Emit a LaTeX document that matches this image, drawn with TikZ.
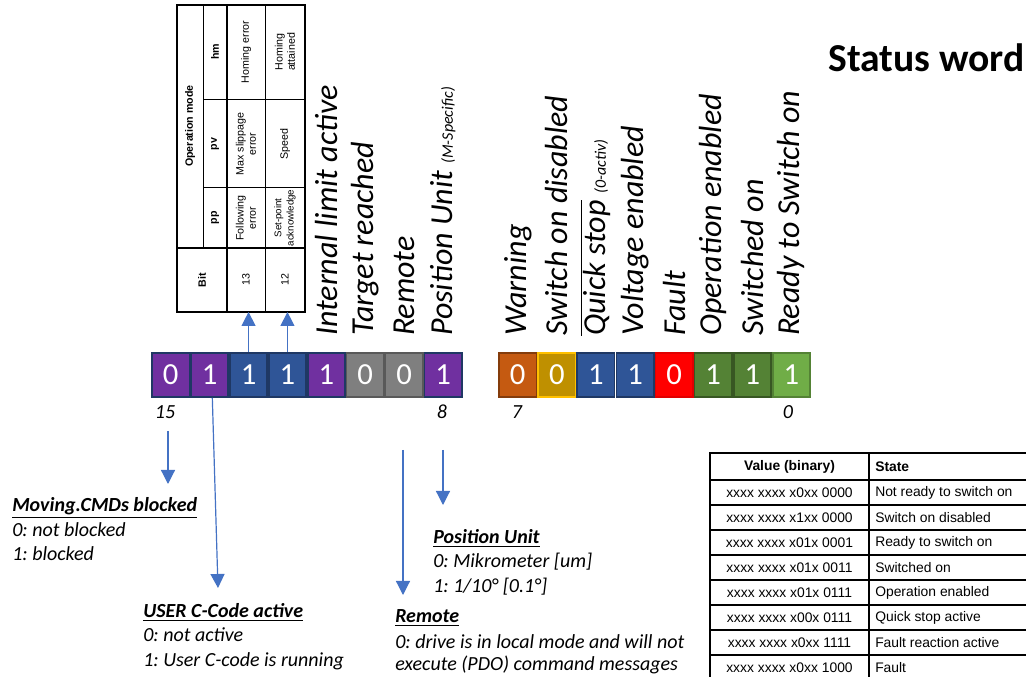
\documentclass[tikz,border=0pt]{standalone}
\usepackage{fontspec}
\setmainfont{Carlito}
\newfontfamily\tabfont{Liberation Sans}
\usetikzlibrary{arrows.meta,positioning}
\frenchspacing
\definecolor{swlila}{HTML}{7030A0}
\definecolor{swnavy}{HTML}{1F3864}
\definecolor{swblau}{HTML}{2F5597}
\definecolor{swgrau}{HTML}{7F7F7F}
\definecolor{swgraurand}{HTML}{595959}
\definecolor{sworange}{HTML}{C55A11}
\definecolor{sworangerand}{HTML}{843C0C}
\definecolor{swgold}{HTML}{BF9000}
\definecolor{swgelb}{HTML}{FFC000}
\definecolor{swrot}{HTML}{FF0000}
\definecolor{swrotrand}{HTML}{E00000}
\definecolor{swgruen}{HTML}{548235}
\definecolor{swgruenrand}{HTML}{385723}
\definecolor{swhellgruen}{HTML}{70AD47}
\definecolor{swpfeilblau}{HTML}{4472C4}
\tikzset{
  swbit/.style={minimum width=28pt, minimum height=33pt, inner sep=0pt, line width=1.3pt,
                text=white, font=\fontsize{23}{23}\selectfont},
  swlabel/.style={rotate=90, anchor=west, inner sep=0pt, font=\fontsize{24}{24}\selectfont\itshape},
  swnummer/.style={anchor=base, inner sep=0pt, font=\fontsize{15}{15}\selectfont\itshape},
  swpfeil/.style={-{Triangle[length=10.5pt,width=10.5pt]}, draw=swpfeilblau, line width=0.9pt},
  swtext/.style={anchor=base west, inner sep=0pt, font=\fontsize{15}{15}\selectfont\itshape},
  swtitel/.style={anchor=base west, inner sep=0pt, font=\fontsize{15}{15}\selectfont\itshape\bfseries},
  swzelle/.style={rotate=90, align=center, inner sep=0pt, font=\tabfont\fontsize{8}{9.2}\selectfont},
  swkopf/.style={swzelle, font=\tabfont\bfseries\fontsize{8}{9.2}\selectfont},
  swzeile/.style={inner sep=0pt, font=\tabfont\fontsize{10.4}{12}\selectfont},
}
\begin{document}
\begin{tikzpicture}[x=0.75pt, y=-0.75pt]
  \useasboundingbox (0,0) rectangle (1026,677);
  % titel
  \node[anchor=base west, inner sep=0pt, font=\fontsize{29.7}{29.7}\selectfont\bfseries] (titel) at (828,72) {Status word};
  % tabelle betriebsart (gedreht)
  \draw[line width=2.2pt] (177,5) rectangle (305,312);
  \draw[line width=1.8pt] (227,5) -- (227,312) (177,248) -- (305,248);
  \draw[line width=0.75pt] (203,5) -- (203,248) (265,5) -- (265,312) (203,100) -- (305,100) (203,188) -- (305,188);
  \node[swkopf] (tbit) at (202,280) {Bit};
  \node[swkopf] (tmode) at (190,126) {Operation mode};
  \node[swkopf] (tpp) at (215,218) {pp};
  \node[swkopf] (tpv) at (215,144) {pv};
  \node[swkopf] (thm) at (215,52) {hm};
  \node[swzelle] (t13) at (246,280) {13};
  \node[swzelle] (t12) at (285,280) {12};
  \node[swzelle] (t13pp) at (246,218) {Following\\error};
  \node[swzelle] (t13pv) at (246,144) {Max slippage\\error};
  \node[swzelle] (t13hm) at (246,52) {Homing error};
  \node[swzelle, font=\tabfont\fontsize{7.3}{9.2}\selectfont] (t12pp) at (285,218) {Set-point\\acknowledge};
  \node[swzelle] (t12pv) at (285,144) {Speed};
  \node[swzelle] (t12hm) at (285,52) {Homing\\attained};
  \coordinate (tunten) at (0,312);
  % bits 15..8
  \foreach \bit/\wert/\fuell/\rand [count=\i from 0] in {15/0/swlila/swnavy, 14/1/swlila/swnavy,
      13/1/swblau/swnavy, 12/1/swblau/swnavy, 11/1/swlila/swnavy, 10/0/swgrau/swgraurand,
      9/0/swgrau/swgraurand, 8/1/swlila/swnavy}
    \node[swbit, fill=\fuell, draw=\rand] (b\bit) at (170.75+38.9*\i,375) {\wert};
  % bits 7..0
  \foreach \bit/\wert/\fuell/\rand [count=\i from 0] in {7/0/sworange/sworangerand, 6/0/swgold/swgelb,
      5/1/swblau/swnavy, 4/1/swblau/swnavy, 3/0/swrot/swrotrand, 2/1/swgruen/swgruenrand,
      1/1/swgruen/swgruenrand, 0/1/swhellgruen/swgruen}
    \node[swbit, fill=\fuell, draw=\rand] (b\bit) at (517.75+39.1*\i,375) {\wert};
  % beschriftung der bits
  \foreach \bit/\name in {11/Internal limit active, 10/Target reached, 9/Remote,
      8/{Position Unit {\fontsize{12}{12}\selectfont(M-Specific)}}, 7/Warning, 6/Switch on disabled,
      5/{$\overline{\mbox{Quick stop}}$ {\fontsize{12}{12}\selectfont(0-activ)}}, 4/Voltage enabled,
      3/Fault, 2/Operation enabled, 1/Switched on, 0/Ready to Switch on}
    \node[swlabel] (l\bit) at ([yshift=12pt]b\bit.north) {\name};
  \node[swnummer] (n15) at (165,419) {15};
  \node[swnummer] (n8) at (442,419) {8};
  \node[swnummer] (n7) at (517,419) {7};
  \node[swnummer] (n0) at (788,419) {0};
  % pfeile
  \draw[swpfeil] (b13.north) -- (b13.north |- tunten);
  \draw[swpfeil] (b12.north) -- (b12.north |- tunten);
  \coordinate (p15a) at (168,431);
  \coordinate (p15b) at (168,484);
  \draw[swpfeil] (p15a) -- (p15b);
  \coordinate (p14) at (218,588);
  \draw[swpfeil] ([xshift=2pt]b14.south) -- (p14);
  \coordinate (p9a) at (403,450);
  \coordinate (p9b) at (403,595);
  \draw[swpfeil] (p9a) -- (p9b);
  \coordinate (p8a) at (443,450);
  \coordinate (p8b) at (443,505);
  \draw[swpfeil] (p8a) -- (p8b);
  % erklaerungen
  \node[swtitel] (m15) at (12,512) {\underline{Moving.CMDs blocked}};
  \node[swtext] (m15a) at (12,537) {0: not blocked};
  \node[swtext] (m15b) at (12,561) {1: blocked};
  \node[swtitel] (m14) at (143,618) {\underline{USER C-Code active}};
  \node[swtext] (m14a) at (143,642) {0: not active};
  \node[swtext] (m14b) at (143,667) {1: User C-code is running};
  \node[swtitel] (m8) at (433,544) {\underline{Position Unit}};
  \node[swtext] (m8a) at (433,568) {0: Mikrometer [um]};
  \node[swtext] (m8b) at (433,593) {1: 1/10° [0.1°]};
  \node[swtitel] (m9) at (395,623) {\underline{Remote}};
  \node[swtext] (m9a) at (395,648) {0: drive is in local mode and will not};
  \node[swtext] (m9b) at (395,671) {execute (PDO) command messages};
  % zustandstabelle
  \draw[line width=2pt] (1026,453) -- (710,453) -- (710,677);
  \draw[line width=1.5pt] (869,453) -- (869,677);
  \foreach \y in {480,505,...,655}
    \draw[line width=1pt] (710,\y) -- (1026,\y);
  \node[swzeile, font=\tabfont\bfseries\fontsize{10.4}{12}\selectfont] (zkopfwert) at (789.5,466.5) {Value (binary)};
  \node[swzeile, anchor=west, font=\tabfont\bfseries\fontsize{10.4}{12}\selectfont] (zkopfstat) at (875,466.5) {State};
  \foreach \wert/\zustand [count=\i from 0] in {xxxx xxxx x0xx 0000/Not ready to switch on,
      xxxx xxxx x1xx 0000/Switch on disabled, xxxx xxxx x01x 0001/Ready to switch on,
      xxxx xxxx x01x 0011/Switched on, xxxx xxxx x01x 0111/Operation enabled,
      xxxx xxxx x00x 0111/Quick stop active, xxxx xxxx x0xx 1111/Fault reaction active,
      xxxx xxxx x0xx 1000/Fault}
  {
    \node[swzeile] (zw\i) at (789.5,492.5+25*\i) {\wert};
    \node[swzeile, anchor=west] (zs\i) at (875,492.5+25*\i) {\zustand};
  }
\end{tikzpicture}
\end{document}
